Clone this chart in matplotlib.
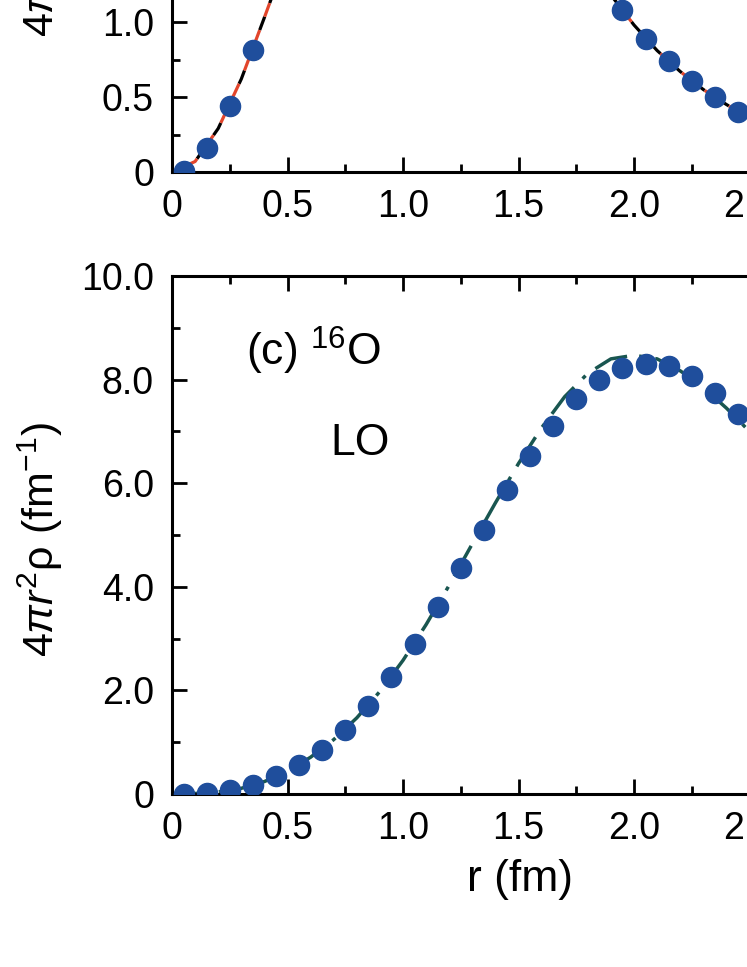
import matplotlib
matplotlib.use("Agg")
import matplotlib.pyplot as plt
from matplotlib.ticker import MultipleLocator, FuncFormatter

plt.rcParams['font.family'] = ['Liberation Sans', 'DejaVu Sans']
plt.rcParams['mathtext.fontset'] = 'custom'
plt.rcParams['mathtext.rm'] = 'Liberation Sans'
plt.rcParams['mathtext.it'] = 'Liberation Sans:italic'
plt.rcParams['mathtext.bf'] = 'Liberation Sans:bold'

# ---------------- data: top panel (partially visible) ----------------
top_r_pts = [0.05, 0.15, 0.25, 0.35, 0.45, 0.55, 0.65, 0.75, 0.85, 0.95, 1.05,
             1.15, 1.25, 1.35, 1.45, 1.55, 1.65, 1.75, 1.85, 1.95, 2.05, 2.15,
             2.25, 2.35, 2.45]
top_rho_pts = [0.01, 0.16, 0.44, 0.81, 1.26, 1.62, 1.95, 2.22, 2.42, 2.52, 2.55,
               2.48, 2.36, 2.2, 2.02, 1.84, 1.66, 1.48, 1.29, 1.08, 0.89, 0.74,
               0.61, 0.50, 0.40]
top_r_line = [0.0, 0.1, 0.2, 0.3, 0.4, 0.5, 0.6, 0.7, 0.8, 0.9, 1.0, 1.1, 1.2,
              1.3, 1.4, 1.5, 1.6, 1.7, 1.8, 1.9, 2.0, 2.1, 2.2, 2.3, 2.4, 2.5, 2.6]
top_rho_line_a = [0.0, 0.07, 0.29, 0.62, 1.03, 1.45, 1.8, 2.1, 2.33, 2.48, 2.55,
                  2.53, 2.43, 2.29, 2.12, 1.93, 1.75, 1.57, 1.39, 1.18, 0.98,
                  0.81, 0.67, 0.55, 0.45, 0.36, 0.29]
top_rho_line_b = [0.0, 0.07, 0.29, 0.62, 1.03, 1.45, 1.8, 2.1, 2.33, 2.48, 2.55,
                  2.53, 2.43, 2.29, 2.12, 1.93, 1.75, 1.57, 1.39, 1.18, 0.98,
                  0.81, 0.67, 0.55, 0.45, 0.36, 0.29]

# ---------------- data: panel (c) 16O LO ----------------
c_r_pts = [0.05, 0.15, 0.25, 0.35, 0.45, 0.55, 0.65, 0.75, 0.85, 0.95, 1.05,
           1.15, 1.25, 1.35, 1.45, 1.55, 1.65, 1.75, 1.85, 1.95, 2.05, 2.15,
           2.25, 2.35, 2.45]
c_rho_pts = [0.0, 0.02, 0.08, 0.18, 0.34, 0.56, 0.85, 1.24, 1.70, 2.26, 2.90,
             3.61, 4.36, 5.10, 5.86, 6.53, 7.11, 7.62, 7.99, 8.23, 8.30, 8.27,
             8.07, 7.74, 7.33]
c_r_line = [0.0, 0.1, 0.2, 0.3, 0.4, 0.5, 0.6, 0.7, 0.8, 0.9, 1.0, 1.1, 1.2,
            1.3, 1.4, 1.5, 1.6, 1.7, 1.8, 1.9, 2.0, 2.1, 2.2, 2.3, 2.4, 2.5, 2.6]
c_rho_line = [0.0, 0.01, 0.04, 0.11, 0.24, 0.44, 0.71, 1.05, 1.47, 1.98, 2.58,
              3.27, 4.03, 4.83, 5.62, 6.38, 7.07, 7.67, 8.12, 8.40, 8.47, 8.40,
              8.17, 7.85, 7.45, 7.0, 6.5]

W, H = 747, 967
fig = plt.figure(figsize=(W / 100, H / 100), dpi=100)

x0 = 172
px_per_fm = 231
xmax = 3.0
left = x0 / W
width = xmax * px_per_fm / W

blue = '#1f4e9c'
red = '#e2452b'
teal = '#195650'

tick_fs = 27


def style_axes(ax):
    for s in ax.spines.values():
        s.set_linewidth(2.2)
    ax.tick_params(which='both', direction='in', top=True, right=True,
                   width=2.0, labelsize=tick_fs, pad=12)
    ax.tick_params(which='major', length=11)
    ax.tick_params(which='minor', length=5.5)
    ax.xaxis.set_major_locator(MultipleLocator(0.5))
    ax.xaxis.set_minor_locator(MultipleLocator(0.25))
    fmt = FuncFormatter(lambda v, p: '0' if abs(v) < 1e-9 else f'{v:.1f}')
    ax.xaxis.set_major_formatter(fmt)
    ax.yaxis.set_major_formatter(fmt)
    ax.tick_params(axis='y', pad=13)


# top panel
y_axis_top = 172
top_ymax = 3.0
top_px_per_unit = 150
axt = fig.add_axes([left, 1 - y_axis_top / H, width, top_ymax * top_px_per_unit / H])
axt.plot(top_r_line, top_rho_line_b, color='black', lw=2.3,
         linestyle=(0, (4.5, 4.5)), dash_capstyle='butt', zorder=2)
axt.plot(top_r_line, top_rho_line_a, color=red, lw=2.3,
         linestyle=(4.5, (4.5, 4.5)), dash_capstyle='butt', zorder=2)
axt.plot(top_r_pts, top_rho_pts, 'o', color=blue, ms=14.5, mec=blue, zorder=3)
axt.set_xlim(0, xmax)
axt.set_ylim(0, top_ymax)
style_axes(axt)
axt.yaxis.set_major_locator(MultipleLocator(0.5))
axt.yaxis.set_minor_locator(MultipleLocator(0.25))

# bottom panel (c)
y_axis_c = 794
y_top_c = 276
axc = fig.add_axes([left, 1 - y_axis_c / H, width, (y_axis_c - y_top_c) / H])
axc.plot(c_r_line, c_rho_line, color=teal, lw=2.5,
         linestyle=(0, (10, 3.5, 1.2, 3.5)), zorder=2)
axc.plot(c_r_pts, c_rho_pts, 'o', color=blue, ms=14.5, mec=blue, zorder=3)
axc.set_xlim(0, xmax)
axc.set_ylim(0, 10.0)
style_axes(axc)
axc.yaxis.set_major_locator(MultipleLocator(2.0))
axc.yaxis.set_minor_locator(MultipleLocator(1.0))

axc.text(0.32, 8.27, r'(c) $^{16}$O', fontsize=32, ha='left', va='baseline')
axc.text(0.684, 6.55, 'LO', fontsize=32, ha='left', va='baseline')

ylab = r'$4\pi r^{2}\mathrm{\rho}$ (fm$^{-1}$)'
fig.text(40 / W, 1 - 540 / H, ylab, rotation=90, fontsize=31, ha='center', va='center')
fig.text(40 / W, 1 - 37 / H, ylab, rotation=90, fontsize=31, ha='center', va='bottom')
fig.text(520 / W, 1 - 880 / H, 'r (fm)', fontsize=32, ha='center', va='center')

fig.savefig('out.png', dpi=100)
